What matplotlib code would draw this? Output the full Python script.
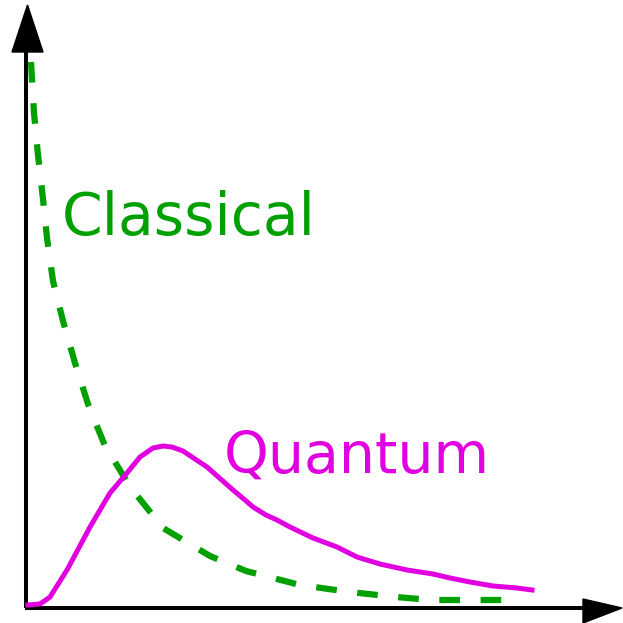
import matplotlib.pyplot as plt
from matplotlib.patches import Polygon

# curve samples, measured from the origin of the drawn axes
classical_x = [5, 8, 12, 17, 21, 27, 37, 49, 62, 79, 105, 137, 184, 220, 274, 324, 370, 405, 449, 495]
classical_y = [546, 495, 453, 409, 370, 327, 287, 245, 204, 162, 120, 80, 52, 37, 23, 16, 11, 8, 8, 8]

quantum_x = [2, 14, 24, 41, 64, 84, 101, 114, 127, 137, 146, 157, 181, 207, 219, 227, 240, 251, 264, 287, 311, 331, 354, 381, 407, 424, 444, 467, 491, 506]
quantum_y = [3, 4, 11, 38, 81, 115, 135, 151, 160, 162, 161, 157, 141, 118, 108, 101, 93, 88, 81, 70, 61, 51, 44, 38, 34, 30, 26, 22, 20, 18]

green = '#00a000'
magenta = '#e000e0'

fig = plt.figure(figsize=(6.23, 6.23), dpi=100)
ax = fig.add_axes([0, 0, 1, 1])
ax.set_xlim(-26, 597)
ax.set_ylim(-15, 608)
ax.axis('off')

# axes with arrow heads
ax.plot([0, 0], [0, 560], color='black', lw=2.9, solid_capstyle='butt')
ax.plot([-1, 560], [0, 0], color='black', lw=2.9, solid_capstyle='butt')
ax.add_patch(Polygon([(-14, 556), (17, 556), (1.5, 603)], closed=True, color='black'))
ax.add_patch(Polygon([(557, 9), (557, -15), (596, 0)], closed=True, color='black'))

lw_c = 4.5
ax.plot(classical_x, classical_y, color=green, lw=lw_c, dashes=(3.3, 3.3), solid_capstyle='butt')
ax.plot(quantum_x, quantum_y, color=magenta, lw=3.6)

ax.text(36, 373, 'Classical', color=green, fontsize=42, family='DejaVu Sans', ha='left', va='baseline')
ax.text(198, 135, 'Quantum', color=magenta, fontsize=41, family='DejaVu Sans', ha='left', va='baseline')

fig.savefig('out.png', dpi=100)
